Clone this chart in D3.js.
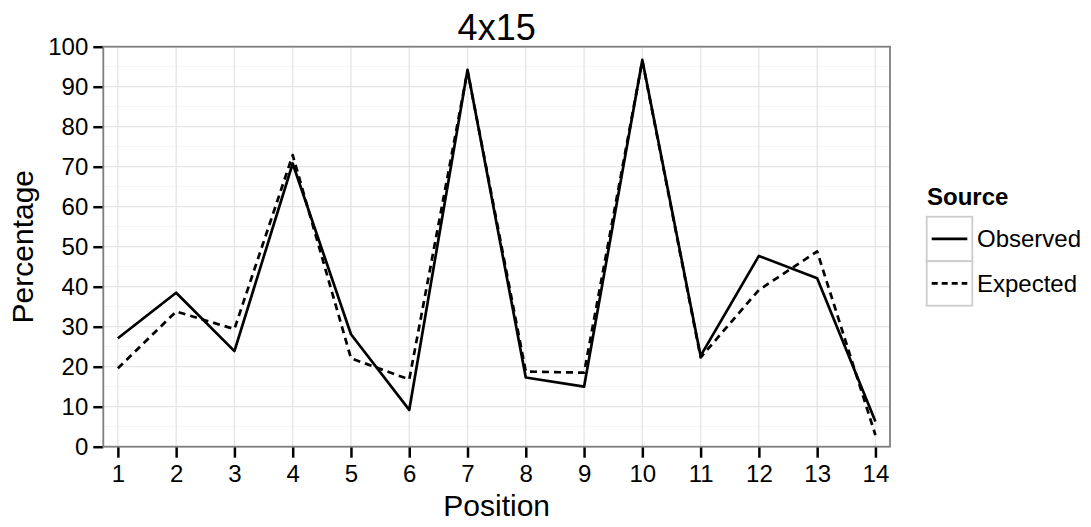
<!DOCTYPE html>
<html>
<head>
<meta charset="utf-8">
<script src="https://cdn.jsdelivr.net/npm/d3@7"></script>
<style>
  html, body { margin: 0; padding: 0; background: #ffffff; }
  svg { display: block; font-family: "Liberation Sans", Arial, sans-serif; }
</style>
</head>
<body>
<svg id="chart" width="1091" height="527"></svg>
<script>
const positions = [1, 2, 3, 4, 5, 6, 7, 8, 9, 10, 11, 12, 13, 14];
const observed = [27.1, 38.5, 23.9, 70.8, 28.1, 9.2, 94.2, 17.3, 15.0, 96.7, 22.7, 47.7, 42.1, 6.3];
const expected = [19.6, 33.8, 29.4, 72.9, 22.1, 16.8, 94.0, 18.8, 18.5, 96.5, 22.3, 39.2, 48.8, 2.9];
const seriesNames = ["Observed", "Expected"];
const yTicks = [0, 10, 20, 30, 40, 50, 60, 70, 80, 90, 100];
const yMinor = [5, 15, 25, 35, 45, 55, 65, 75, 85, 95];
const titleText = "4x15";
const xLabel = "Position";
const yLabel = "Percentage";
const legendTitle = "Source";

const svg = d3.select("#chart");
const L = 103.3, R = 890, T = 46.7, B = 446.7;

const x = d3.scaleLinear().domain([0.75, 14.25]).range([L, R]);
const y = d3.scaleLinear().domain([0, 100]).range([B, T]);

svg.append("rect").attr("x", L).attr("y", T).attr("width", R - L).attr("height", B - T).attr("fill", "#ffffff");

svg.append("g").selectAll("line").data(yMinor).join("line")
  .attr("x1", L).attr("x2", R).attr("y1", d => y(d)).attr("y2", d => y(d))
  .attr("stroke", "#f6f6f6").attr("stroke-width", 1.3);

svg.append("g").selectAll("line").data(yTicks).join("line")
  .attr("x1", L).attr("x2", R).attr("y1", d => y(d)).attr("y2", d => y(d))
  .attr("stroke", "#e5e5e5").attr("stroke-width", 1.3);
svg.append("g").selectAll("line").data(positions).join("line")
  .attr("y1", T).attr("y2", B).attr("x1", d => x(d)).attr("x2", d => x(d))
  .attr("stroke", "#e5e5e5").attr("stroke-width", 1.3);

const yAxis = d3.axisLeft(y).tickValues(yTicks).tickSize(10).tickPadding(5).tickFormat(d3.format("d"));
const gy = svg.append("g").attr("transform", `translate(${L},0)`).call(yAxis);
gy.select(".domain").remove();
gy.selectAll(".tick line").attr("stroke", "#000").attr("stroke-width", 2.5);
gy.selectAll(".tick text").attr("font-size", 24).attr("fill", "#000").attr("font-family", "Liberation Sans, Arial, sans-serif");

const xAxis = d3.axisBottom(x).tickValues(positions).tickSize(11).tickPadding(7).tickFormat(d3.format("d"));
const gx = svg.append("g").attr("transform", `translate(0,${B})`).call(xAxis);
gx.select(".domain").remove();
gx.selectAll(".tick line").attr("stroke", "#000").attr("stroke-width", 2.5);
gx.selectAll(".tick text").attr("font-size", 24).attr("fill", "#000").attr("font-family", "Liberation Sans, Arial, sans-serif");

const line = d3.line().x((d, i) => x(positions[i])).y(d => y(d));
svg.append("path").datum(expected).attr("d", line)
  .attr("fill", "none").attr("stroke", "#000").attr("stroke-width", 2.7)
  .attr("stroke-dasharray", "7,5").attr("stroke-linejoin", "round");
svg.append("path").datum(observed).attr("d", line)
  .attr("fill", "none").attr("stroke", "#000").attr("stroke-width", 2.7)
  .attr("stroke-linejoin", "round");

svg.append("rect").attr("x", L).attr("y", T).attr("width", R - L).attr("height", B - T)
  .attr("fill", "none").attr("stroke", "#7f7f7f").attr("stroke-width", 1.8);

svg.append("text").attr("x", (L + R) / 2).attr("y", 40).attr("text-anchor", "middle")
  .attr("font-size", 36).attr("fill", "#000").text(titleText);

svg.append("text").attr("x", (L + R) / 2).attr("y", 515.5).attr("text-anchor", "middle")
  .attr("font-size", 30).attr("fill", "#000").text(xLabel);
svg.append("text").attr("transform", `translate(33,${(T + B) / 2}) rotate(-90)`)
  .attr("text-anchor", "middle").attr("font-size", 30).attr("fill", "#000").text(yLabel);

const lg = svg.append("g");
lg.append("text").attr("x", 927).attr("y", 205).attr("font-size", 24).attr("font-weight", "bold")
  .attr("fill", "#000").text(legendTitle);
const keyH = 44.5, keyTop = 216.7, keyL = 926.7, keyW = 45.6;
seriesNames.forEach((name, i) => {
  const ky = keyTop + i * keyH;
  lg.append("rect").attr("x", keyL).attr("y", ky).attr("width", keyW).attr("height", keyH)
    .attr("fill", "#ffffff").attr("stroke", "#cccccc").attr("stroke-width", 1.8);
  lg.append("line").attr("x1", keyL + 5).attr("x2", keyL + keyW - 5)
    .attr("y1", ky + keyH / 2).attr("y2", ky + keyH / 2)
    .attr("stroke", "#000").attr("stroke-width", 2.7)
    .attr("stroke-dasharray", i === 1 ? "6,4" : null);
  lg.append("text").attr("x", 977).attr("y", ky + keyH / 2 + 8.5).attr("font-size", 24)
    .attr("fill", "#000").text(name);
});
</script>
</body>
</html>
